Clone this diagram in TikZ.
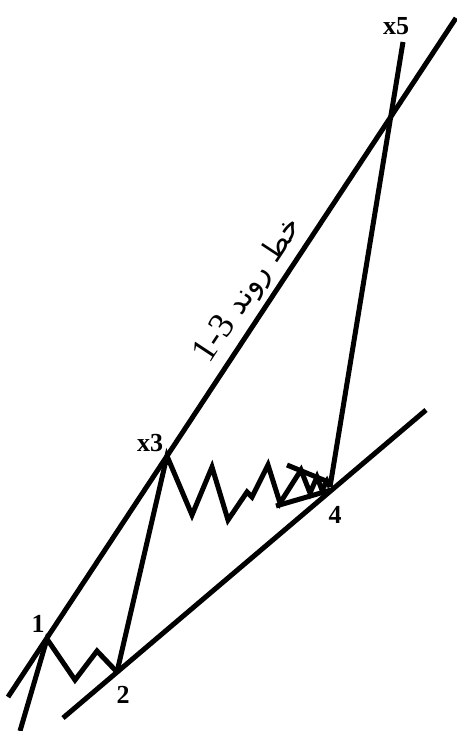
\documentclass[tikz,border=0pt]{standalone}
\usepackage{fontspec}
\setmainfont{Liberation Serif}
\newfontfamily\arabicfont[Script=Arabic]{DejaVu Sans}
\TeXXeTstate=1
\definecolor{inkline}{HTML}{000000}
\tikzset{
  trend/.style={draw=inkline, line width=5pt},
  wave/.style={draw=inkline, line width=5pt, line join=miter},
  ptlabel/.style={font=\fontsize{26}{30}\selectfont\bfseries, inner sep=0pt},
  trendtext/.style={font=\arabicfont\fontsize{30}{34}\selectfont, inner sep=0pt, rotate=56.6, anchor=base}
}

\begin{document}
\begin{tikzpicture}[x=1pt, y=-1pt]
\useasboundingbox (0,0) rectangle (456,731);

% wave points
\coordinate (entry) at (20,731);
\coordinate (p1) at (47,639);
\coordinate (p2) at (117,672);
\coordinate (p3) at (167,456);
\coordinate (p4) at (330,487);
\coordinate (p5) at (403,42);

% trend lines
\coordinate (upA) at (8,697);
\coordinate (upB) at (456,18);
\coordinate (loA) at (63,718);
\coordinate (loB) at (426,410);

\draw[trend] (upA) -- (upB);
\draw[trend] (loA) -- (loB);

\node[trendtext] (trendlbl) at (256,295) {\beginR خط روند \beginL{\rmfamily\fontsize{36}{40}\selectfont 1-3}\endL\endR};

% waves 1 to 5
\draw[wave] (entry) -- (p1) -- (75,680) -- (97,651) -- (p2);
\draw[wave] (p2) -- (p3) -- (192,515) -- (212,467) -- (228,520) -- (247,492)
  -- (252,497) -- (268,465) -- (280,503) -- (301,470) -- (310,493)
  -- (317,477) -- (322,490) -- (327,481) -- (p4);
\draw[wave] (p4) -- (p5);

% triangle of wave 4
\draw[trend] (287,465) -- (331,483);
\draw[trend] (276,506) -- (331,490);

\node[ptlabel] (lbl1) at (38,624) {1};
\node[ptlabel] (lbl2) at (123,695) {2};
\node[ptlabel] (lbl3) at (150,443) {x3};
\node[ptlabel] (lbl4) at (335,515) {4};
\node[ptlabel] (lbl5) at (396,26) {x5};

\end{tikzpicture}
\end{document}
